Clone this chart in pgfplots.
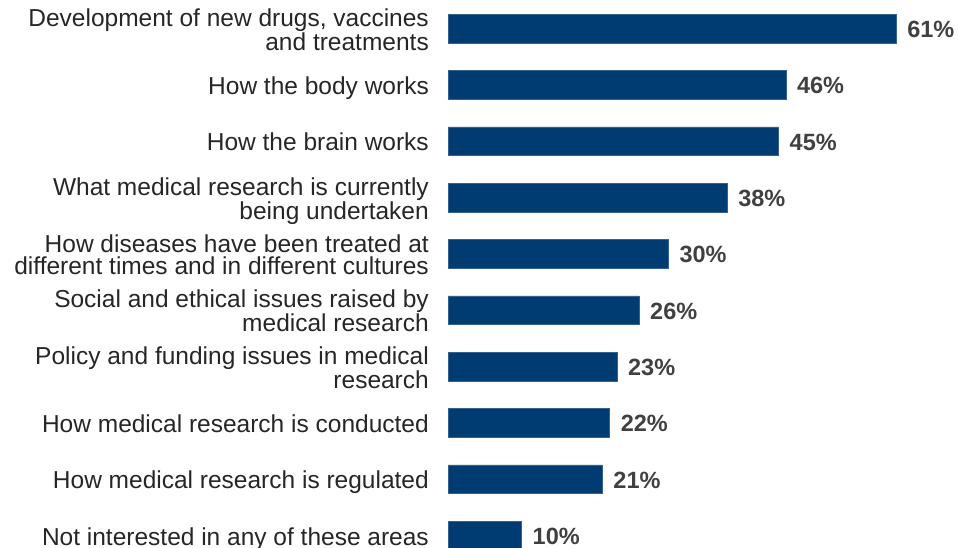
\documentclass[border=0pt]{standalone}
\usepackage{fontspec}
\setmainfont{Liberation Sans}
\usepackage{pgfplots}
\pgfplotsset{compat=1.18}
\definecolor{barblue}{RGB}{0,60,113}
\definecolor{labgray}{RGB}{38,38,38}
\definecolor{valgray}{RGB}{64,64,64}
\begin{document}
\begin{tikzpicture}
\useasboundingbox (0,0) rectangle (958pt,548pt);
\begin{axis}[
 at={(448pt,0pt)}, anchor=south west,
 scale only axis, width=448pt, height=548pt,
 xbar, bar width=28.5pt,
 xmin=0, xmax=61, ymin=0.7781, ymax=10.5065,
 axis line style={draw=none},
 xtick=\empty,
 ytick={1,...,10},
 yticklabels={
  {Not interested in any of these areas},
  {How medical research is regulated},
  {How medical research is conducted},
  {Policy and funding issues in medical\\research},
  {Social and ethical issues raised by\\medical research},
  {How diseases have been treated at\\different times and in different cultures},
  {What medical research is currently\\being undertaken},
  {How the brain works},
  {How the body works},
  {Development of new drugs, vaccines\\and treatments}},
 major tick length=0pt,
 yticklabel style={align=right, anchor=east, inner sep=0pt, text depth=0pt, xshift=-19pt, yshift=-0.8pt, text=labgray, font=\fontsize{24.5}{21.8}\selectfont},
 /pgf/number format/assume math mode=true,
 nodes near coords={\pgfmathprintnumber{\pgfplotspointmeta}\%},
 point meta=x,
 nodes near coords style={anchor=west, inner sep=0pt, xshift=11pt, yshift=-1pt, font=\fontsize{23.5}{26}\selectfont\bfseries, text=valgray},
 clip=false,
]
\addplot[fill=barblue, draw=barblue!80!white, line width=0.5pt] coordinates {(10,1) (21,2) (22,3) (23,4) (26,5) (30,6) (38,7) (45,8) (46,9) (61,10)};
\end{axis}
\end{tikzpicture}
\end{document}
